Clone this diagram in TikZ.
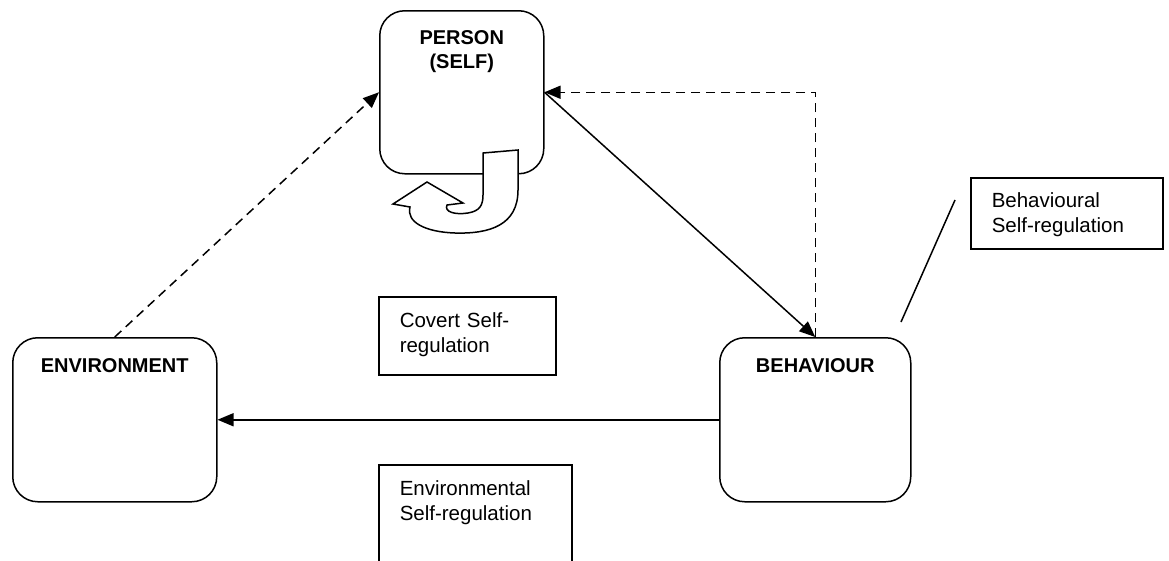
\documentclass[tikz,border=0pt]{standalone}
\usepackage{fontspec}
\setmainfont{Liberation Sans}
\usetikzlibrary{arrows.meta,positioning}
\newcommand{\boxfont}{\fontsize{20}{24}\selectfont\bfseries}
\newcommand{\notefont}{\fontsize{20.5}{24.5}\selectfont}
\begin{document}
\begin{tikzpicture}[x=1pt, y=-1pt, line width=1.5pt,
    roundbox/.style={draw, rounded corners=25pt, anchor=north west, inner sep=0pt,
      align=center, font=\boxfont, text height=35pt, text depth=129pt},
    notebox/.style={draw, anchor=north west, inner xsep=21pt, inner ysep=0pt,
      align=left, font=\notefont},
    link/.style={-{Triangle[length=16pt,width=13pt]}},
    dashlink/.style={link, dash pattern=on 9pt off 6pt}]
    \useasboundingbox (0,0) rectangle (1169,560);
    % the three rounded boxes
    \node[roundbox, text width=164pt, text height=34pt] (person) at (379,10) {PERSON\\(SELF)};
    \node[roundbox, text width=204pt] (env) at (12,337) {ENVIRONMENT};
    \node[roundbox, text width=191pt] (beh) at (719,337) {BEHAVIOUR};
    % the turning arrow under the person box
    \draw[fill=white] (483,153) -- (518,150) -- (518,190)
      .. controls (518,225) and (490,234) .. (455,233)
      .. controls (425,232) and (406,222) .. (410,207)
      -- (393,204) -- (427,182) -- (463,203) -- (447,205)
      .. controls (444,212) and (455,215) .. (468,213)
      .. controls (480,211) and (483,205) .. (483,195) -- cycle;
    % the notes
    \node[notebox, text width=135pt, text height=31pt, text depth=47pt] (covert) at (378,296) {Covert Self-\\regulation};
    \node[notebox, text width=151pt, text height=31pt, text depth=71pt] (envreg) at (378,464) {Environmental\\Self-regulation};
    \node[notebox, text width=150pt, text height=30pt, text depth=41pt] (behreg) at (970,177) {Behavioural\\Self-regulation};
    % connectors
    \draw[dashlink] (env.north) -- (person.west);
    \draw[dashlink] (beh.north) |- (person.east);
    \draw[link] (person.east) -- (beh.north);
    \draw[link] (beh.west) -- (env.east);
    \coordinate (tickA) at (955,200);
    \coordinate (tickB) at (901,322);
    \draw (tickA) -- (tickB);
\end{tikzpicture}
\end{document}
